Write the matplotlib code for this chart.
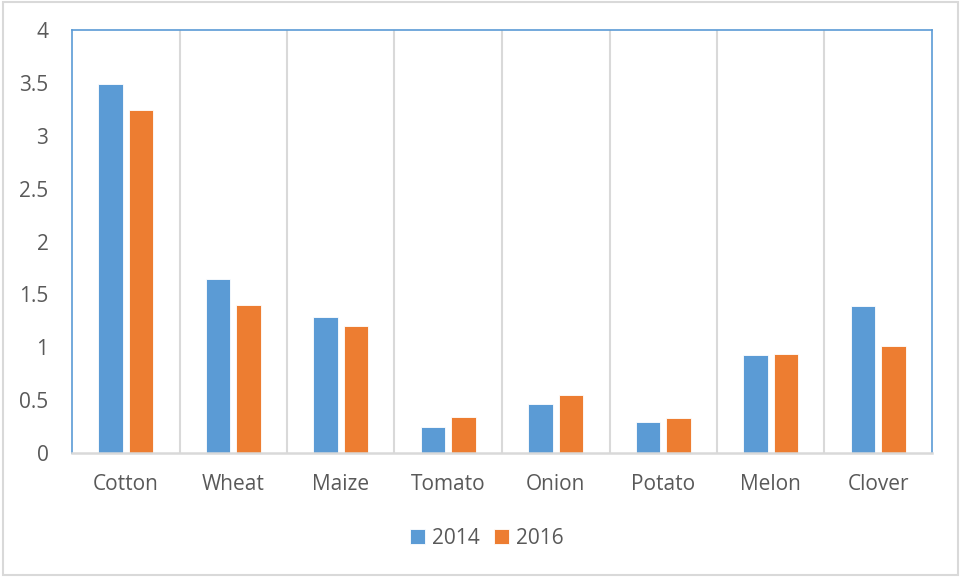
import numpy as np
import matplotlib.pyplot as plt
from matplotlib.patches import Rectangle

crops = ["Cotton", "Wheat", "Maize", "Tomato", "Onion", "Potato", "Melon", "Clover"]
y2014 = [3.49, 1.645, 1.29, 0.245, 0.465, 0.295, 0.925, 1.39]
y2016 = [3.24, 1.40, 1.20, 0.34, 0.545, 0.335, 0.94, 1.015]

blue = "#5B9BD5"
orange = "#ED7D31"
txt = "#595959"
grid = "#D9D9D9"

plt.rcParams['font.family'] = ['Open Sans', 'DejaVu Sans']

fig = plt.figure(figsize=(9.62, 5.77), dpi=100)
ax = fig.add_axes([72/962, 1-453/577, (932-72)/962, (453-30)/577])

x = np.arange(len(crops))
w = 0.226
off = 0.142
ax.bar(x - off, y2014, w, color=blue, edgecolor="white", linewidth=0.6, label="2014", zorder=3)
ax.bar(x + off, y2016, w, color=orange, edgecolor="white", linewidth=0.6, label="2016", zorder=3)

for b in np.arange(0.5, len(crops) - 0.5, 1):
    ax.axvline(b, color=grid, lw=1.5, zorder=1)

ax.set_xlim(-0.5, len(crops) - 0.5)
ax.set_ylim(0, 4)
ax.set_yticks(np.arange(0, 4.01, 0.5))
ax.set_yticklabels(["0", "0.5", "1", "1.5", "2", "2.5", "3", "3.5", "4"])
ax.set_xticks(x)
ax.set_xticklabels(crops)
ax.tick_params(axis="both", length=0, labelsize=15, colors=txt)
ax.tick_params(axis="y", pad=17)
ax.tick_params(axis="x", pad=15)

for s in ["left", "top", "right"]:
    ax.spines[s].set_color(blue)
    ax.spines[s].set_linewidth(1.2)
ax.spines["bottom"].set_color(grid)
ax.spines["bottom"].set_linewidth(1.8)
ax.spines["bottom"].set_zorder(4)

leg = fig.legend(loc="center", bbox_to_anchor=(487/962, 1-538/577), ncol=2, frameon=False,
                 fontsize=15, handlelength=0.7, handleheight=0.7, handletextpad=0.35,
                 columnspacing=0.7)
for t in leg.get_texts():
    t.set_color(txt)

fig.patches.append(Rectangle((3/962, 2/577), 955/962, 573/577, transform=fig.transFigure,
                             fill=False, edgecolor=grid, lw=1.5))

fig.savefig("out.png", dpi=100)
